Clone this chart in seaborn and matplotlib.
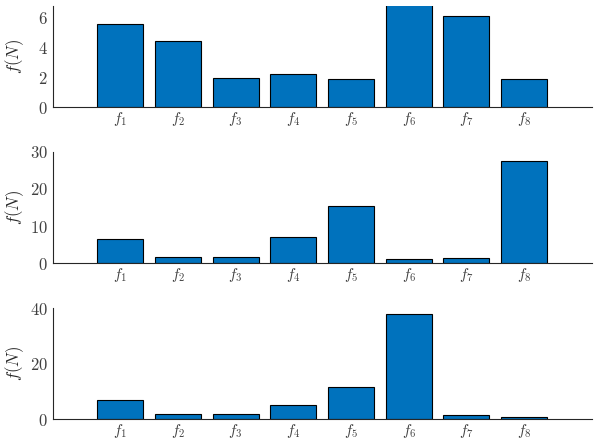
import matplotlib
matplotlib.use('Agg')
import matplotlib.pyplot as plt
import seaborn as sns
import pandas as pd
from matplotlib.ticker import FuncFormatter

# bar labels and values for the three panels
labels = ['$f_1$', '$f_2$', '$f_3$', '$f_4$', '$f_5$', '$f_6$', '$f_7$', '$f_8$']
vals_top = [5.53, 4.44, 1.92, 2.25, 1.87, 6.9, 6.1, 1.87]
vals_mid = [6.6, 1.6, 1.6, 7.0, 15.5, 1.25, 1.45, 27.6]
vals_bot = [7.1, 1.8, 1.8, 5.0, 11.5, 38.1, 1.5, 0.9]

ylims = [(0, 6.75), (0, 30), (0, 40)]
yticks = [[0, 2, 4, 6], [0, 10, 20, 30], [0, 20, 40]]
# axes positions in figure fractions [left, bottom, width, height]
positions = [[0.088, 0.757, 0.898, 0.229],
             [0.088, 0.403, 0.898, 0.253],
             [0.088, 0.049, 0.898, 0.252]]

sns.set_style('white')
plt.rcParams['mathtext.fontset'] = 'cm'
plt.rcParams['font.family'] = ['DejaVu Serif']

fig = plt.figure(figsize=(6, 4.41), dpi=100)
axis_col = '#262626'

for vals, lim, tks, pos in zip([vals_top, vals_mid, vals_bot], ylims, yticks, positions):
    ax = fig.add_axes(pos)
    df = pd.DataFrame({'name': labels, 'value': vals})
    sns.barplot(data=df, x='name', y='value', ax=ax, color='#0072BD',
                saturation=1, edgecolor='black', linewidth=0.8, width=0.8)
    ax.set_axisbelow(False)
    ax.set_xlim(-1.17, 8.17)
    ax.set_ylim(*lim)
    ax.set_yticks(tks)
    ax.yaxis.set_major_formatter(FuncFormatter(lambda v, p: f'${v:g}$'))
    ax.set_xlabel('')
    ax.set_ylabel('$f(N)$', fontsize=12, color=axis_col)
    ax.yaxis.set_label_coords(-0.05, 0.5)
    for side in ['top', 'right']:
        ax.spines[side].set_visible(False)
    for side in ['left', 'bottom']:
        ax.spines[side].set_color(axis_col)
        ax.spines[side].set_linewidth(0.8)
    ax.tick_params(axis='both', direction='in', length=4, width=0.6,
                   color=axis_col, labelcolor='#404040', labelsize=12)
    ax.tick_params(axis='x', pad=2, labelsize=11)
    ax.set_facecolor('white')

fig.savefig('out.png', dpi=100)
